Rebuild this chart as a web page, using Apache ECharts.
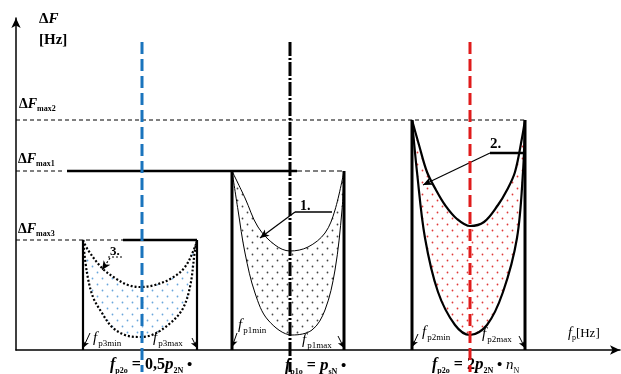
<!DOCTYPE html>
<html><head><meta charset="utf-8">
<script src="https://cdn.jsdelivr.net/npm/echarts@6/dist/echarts.min.js"></script>
<style>html,body{margin:0;padding:0;background:#fff}#c{width:621px;height:374px}</style>
</head><body><div id="c"></div>
<script>
// ---------------- data (schematic units) ----------------
const dFmaxLevels = [230, 179, 110];          // ΔFmax2, ΔFmax1, ΔFmax3
const centerFreqs = [126, 274, 454];          // fp2o (0,5·p2N), fp1o (psN), fp2o (2·p2N·nN)
const band3Edges = [67, 181];                 // fp3min, fp3max
const band1Edges = [216, 328];                // fp1min, fp1max
const band2Edges = [396, 509];                // fp2min, fp2max

const band3Inner = [[67,110],[72,100],[86,82],[99,72],[112,65],[124,63],[139,65],[156,72],[169,83],[179,103],[181,110]];
const band3Outer = [[67,110],[71,77],[77,53],[86,37],[96,23],[109,15],[122,13],[136,15],[152,25],[166,40],[174,63],[179,100],[181,110]];
const band1Inner = [[216,179],[229,152],[242,123],[259,105],[274,99],[292,103],[309,117],[319,140],[328,179]];
const band1Outer = [[216,179],[222,140],[229,97],[239,57],[252,30],[276,15],[296,20],[309,40],[319,80],[326,140],[328,179]];
const band2Inner = [[396,230],[403,205],[411,178],[420,160],[429,145],[441,131],[454,124],[468,128],[482,145],[491,160],[499,178],[506,212],[509,230]];
const band2Outer = [[396,230],[401,178],[409,112],[422,58],[439,25],[454,15],[471,25],[487,58],[501,112],[507,178],[509,230]];

const label1Leader = [[279,138],[316,138]], label1Arrow = [[279,138],[244,112]];
const label2Leader = [[474,197],[509,197]], label2Arrow = [[474,197],[407,165]];
const label3Leader = [[92,93],[106,93]],   label3Arrow = [[94,92],[86,80]];
const edgeArrows = [
  [[74,17],[67,2]], [[176,12],[181,2]],
  [[221,17],[216,3]], [[322,14],[328,2]],
  [[402,16],[396,3]], [[503,14],[509,2]]
];
const centerTop = 308, centerBottom = -22;

// ---------------- helpers ----------------
const S = 'Liberation Serif';
const mctx = document.createElement('canvas').getContext('2d');
function tw(t, f){ mctx.font = f; return mctx.measureText(t).width; }
function runs(x, y, parts){
  const els = []; let cx = x;
  parts.forEach(p => {
    const font = p.f + ' ' + S;
    els.push({type:'text', x:cx, y:y + (p.dy||0), silent:true,
      style:{text:p.t, font:font, fill:p.c||'#000', verticalAlign:'bottom', textVerticalAlign:'bottom'}});
    cx += tw(p.t, font) + (p.sp||0);
  });
  return els;
}
function dotPattern(color){
  const c = document.createElement('canvas'); c.width = 10; c.height = 12;
  const g = c.getContext('2d'); g.fillStyle = color;
  g.beginPath(); g.arc(2.5,2.5,0.9,0,Math.PI*2); g.fill();
  g.beginPath(); g.arc(7.5,8.5,0.9,0,Math.PI*2); g.fill();
  return {image:c, repeat:'repeat'};
}
function seg(data, color, width, type, z){
  return {type:'line', data:data, symbol:'none', clip:false, silent:true, z:z||3,
    lineStyle:{color:color, width:width, type:type||'solid'}};
}
function curve(data, width, type){
  return {type:'line', data:data, symbol:'none', smooth:0.35, silent:true, z:4,
    lineStyle:{color:'#000', width:width, type:type||'solid'}};
}
function band(outer, inner, fill){
  return {type:'custom', coordinateSystem:'cartesian2d', data:[[0,0]], silent:true, z:1,
    renderItem:function(params, api){
      const pts = outer.concat(inner.slice(1,-1).reverse()).map(p => api.coord(p));
      return {type:'polygon', shape:{points:pts, smooth:0.3}, style:{fill:fill, stroke:null}};
    }};
}
function leader(lineData, arrowData, width, type){
  const s = seg(lineData, '#000', width, type, 5);
  s.markLine = {silent:true, symbol:['none','arrow'], symbolSize:[6,9], animation:false,
    label:{show:false}, lineStyle:{color:'#000', width:1.2, type:type||'solid'},
    data:[[{coord:arrowData[0]},{coord:arrowData[1]}]]};
  return s;
}

const [L2, L1, L3] = dFmaxLevels;
const series = [
  band(band3Outer, band3Inner, dotPattern('#6aa6dc')),
  band(band1Outer, band1Inner, dotPattern('#444')),
  band(band2Outer, band2Inner, dotPattern('#e03a3a')),
  // level lines
  seg([[0,L2],[band2Edges[1],L2]], '#000', 1, [4,3]),
  seg([[0,L1],[46,L1]], '#000', 1, [4,3]),
  seg([[51,L1],[281,L1]], '#000', 2.5),
  seg([[281,L1],[band1Edges[1],L1]], '#000', 1, [5,3]),
  seg([[0,L3],[107,L3]], '#000', 1, [4,3]),
  seg([[107,L3],[band3Edges[1],L3]], '#000', 2.5),
  // band side lines
  seg([[band3Edges[0],L3],[band3Edges[0],0]], '#000', 2.2),
  seg([[band3Edges[1],L3],[band3Edges[1],0]], '#000', 2.2),
  seg([[band1Edges[0],L1],[band1Edges[0],0]], '#000', 3),
  seg([[band1Edges[1],L1],[band1Edges[1],0]], '#000', 3),
  seg([[band2Edges[0],L2],[band2Edges[0],0]], '#000', 3),
  seg([[band2Edges[1],L2],[band2Edges[1],0]], '#000', 3),
  // center lines
  seg([[centerFreqs[0],centerTop],[centerFreqs[0],centerBottom]], '#1a74bd', 3, [12,5], 6),
  seg([[centerFreqs[1],centerTop],[centerFreqs[1],centerBottom]], '#000', 3, [14,2,2,2], 6),
  seg([[centerFreqs[2],centerTop],[centerFreqs[2],centerBottom]], '#e01b1b', 3, [12,5], 6),
  // curves
  curve(band3Inner, 2.2, [2,2]), curve(band3Outer, 2.2, [2,2]),
  curve(band1Inner, 1), curve(band1Outer, 1),
  curve(band2Inner, 2.2), curve(band2Outer, 2.2),
  // labels leaders
  leader(label1Leader, label1Arrow, 1.5),
  leader(label2Leader, label2Arrow, 2.5),
  leader(label3Leader, label3Arrow, 1.2, [2,2]),
  {type:'line', data:[], symbol:'none', silent:true, markLine:{silent:true, symbol:['none','arrow'], symbolSize:[5,7],
    animation:false, label:{show:false}, lineStyle:{color:'#000', width:1, type:'solid'},
    data: edgeArrows.map(a => [{coord:a[0]},{coord:a[1]}])}}
];

const texts = [].concat(
  runs(39, 27, [{t:'Δ', f:'bold 15px'},{t:'F', f:'bold italic 15px'}]),
  runs(39, 48, [{t:'[Hz]', f:'bold 15px'}]),
  runs(19, 111, [{t:'Δ', f:'bold 14px'},{t:'F', f:'bold italic 14px'},{t:'max2', f:'bold 8px', dy:2}]),
  runs(18, 166, [{t:'Δ', f:'bold 14px'},{t:'F', f:'bold italic 14px'},{t:'max1', f:'bold 8px', dy:2}]),
  runs(18, 236, [{t:'Δ', f:'bold 14px'},{t:'F', f:'bold italic 14px'},{t:'max3', f:'bold 8px', dy:2}]),
  runs(93, 346, [{t:'f', f:'italic 15px', sp:1},{t:'p3min', f:'9px', dy:2}]),
  runs(153, 346, [{t:'f', f:'italic 15px', sp:1},{t:'p3max', f:'9px', dy:2}]),
  runs(238, 333, [{t:'f', f:'italic 15px', sp:1},{t:'p1min', f:'9px', dy:2}]),
  runs(302, 348, [{t:'f', f:'italic 15px', sp:1},{t:'p1max', f:'9px', dy:2}]),
  runs(422, 340, [{t:'f', f:'italic 15px', sp:1},{t:'p2min', f:'9px', dy:2}]),
  runs(482, 342, [{t:'f', f:'italic 15px', sp:1},{t:'p2max', f:'9px', dy:2}]),
  runs(568, 340, [{t:'f', f:'italic 14px'},{t:'p', f:'8px', dy:2},{t:'[Hz]', f:'13px'}]),
  runs(110, 373, [{t:'f', f:'bold italic 16px'},{t:'p2o', f:'bold 8px', dy:2},{t:' = 0,5', f:'bold 16px'},{t:'p', f:'bold italic 17px'},{t:'2N', f:'bold 8px', dy:2},{t:' •', f:'bold 15px'}]),
  runs(285, 374, [{t:'f', f:'bold italic 16px'},{t:'p1o', f:'bold 8px', dy:2},{t:' = ', f:'bold 16px'},{t:'p', f:'bold italic 17px'},{t:'sN', f:'bold 8px', dy:2},{t:' •', f:'bold 15px'}]),
  runs(432, 373, [{t:'f', f:'bold italic 16px'},{t:'p2o', f:'bold 8px', dy:2},{t:' = 2', f:'bold 16px'},{t:'p', f:'bold italic 17px'},{t:'2N', f:'bold 8px', dy:2},{t:' • ', f:'bold 15px'},{t:'n', f:'italic 15px'},{t:'N', f:'8px', dy:2}]),
  runs(300, 213, [{t:'1.', f:'bold 14px'}]),
  runs(490, 152, [{t:'2.', f:'bold 15px'}]),
  runs(110, 258, [{t:'3.', f:'bold 13px'}])
);

const chart = echarts.init(document.getElementById('c'), null, {renderer:'canvas'});
chart.setOption({
  animation:false,
  backgroundColor:'#fff',
  grid:{left:16, right:1, top:18, bottom:24},
  xAxis:{type:'value', min:0, max:604, splitLine:{show:false}, axisTick:{show:false}, axisLabel:{show:false},
    axisLine:{onZero:false, symbol:['none','arrow'], symbolSize:[7,10], lineStyle:{color:'#000', width:1.5}}},
  yAxis:{type:'value', min:0, max:332, splitLine:{show:false}, axisTick:{show:false}, axisLabel:{show:false},
    axisLine:{onZero:false, symbol:['none','arrow'], symbolSize:[7,10], lineStyle:{color:'#000', width:1.5}}},
  series:series,
  graphic:{elements:texts}
});
</script></body></html>
